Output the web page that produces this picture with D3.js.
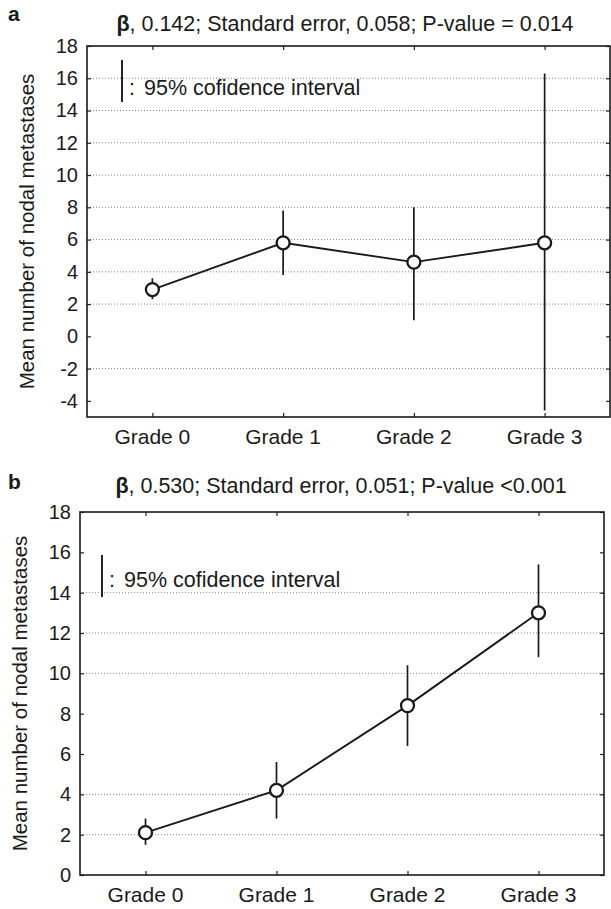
<!DOCTYPE html>
<html>
<head>
<meta charset="utf-8">
<script src="https://cdn.jsdelivr.net/npm/d3@7"></script>
<style>
  body { margin: 0; background: #fff; }
  svg { display: block; }
  text { font-family: "Liberation Sans", Arial, Helvetica, sans-serif; fill: #1a1a1a; }
  .tick-label { font-size: 20px; }
  .grade-label { font-size: 21px; }
  .title { font-size: 21.5px; }
  .legend-text { font-size: 21.5px; }
  .axis-title { font-size: 20.5px; }
  .panel-letter { font-size: 21px; font-weight: bold; }
</style>
</head>
<body>
<svg id="chart"></svg>
<script>
const grades = ["Grade 0", "Grade 1", "Grade 2", "Grade 3"];

// panel a
const meanA = [2.9, 5.8, 4.6, 5.8];
const lowA = [2.3, 3.8, 1.0, -4.6];
const highA = [3.6, 7.8, 8.0, 16.3];
const ticksA = [18, 16, 14, 12, 10, 8, 6, 4, 2, 0, -2, -4];
const gridA = [16, 14, 12, 10, 8, 6, 4, 2, -2];
const statsA = ", 0.142; Standard error, 0.058; P-value = 0.014";

// panel b
const meanB = [2.1, 4.2, 8.4, 13.0];
const lowB = [1.5, 2.8, 6.4, 10.8];
const highB = [2.8, 5.6, 10.4, 15.4];
const ticksB = [18, 16, 14, 12, 10, 8, 6, 4, 2, 0];
const gridB = [14, 12, 10, 4, 2];
const statsB = ", 0.530; Standard error, 0.051; P-value <0.001";

const yTitle = "Mean number of nodal metastases";
const legendLabel = "95% cofidence interval";

const width = 611;
const height = 909;

const svg = d3.select("#chart").attr("width", width).attr("height", height);

const drawPanel = (p) => {
  const g = svg.append("g");

  const x = d3.scalePoint().domain(grades).range([p.left, p.right]).padding(0.5);
  const y = d3.scaleLinear().domain(p.yDomain).range([p.bottom, p.top]);

  const points = grades.map((name, i) => ({
    name: name,
    mean: p.mean[i],
    low: p.low[i],
    high: p.high[i],
  }));

  // dotted grid
  g.append("g")
    .selectAll("line")
    .data(p.grid)
    .join("line")
    .attr("x1", p.left)
    .attr("x2", p.right)
    .attr("y1", (d) => y(d))
    .attr("y2", (d) => y(d))
    .attr("stroke", "#777")
    .attr("stroke-width", 0.9)
    .attr("stroke-dasharray", "1,2");

  // left axis labels + inner ticks on both sides
  const left = g.append("g").attr("transform", `translate(${p.left},0)`)
    .call(d3.axisLeft(y).tickValues(p.ticks).tickSize(0).tickPadding(p.labelGap).tickFormat((d) => String(d)));
  left.select(".domain").remove();
  left.selectAll("text").attr("class", "tick-label").attr("fill", "#1a1a1a");

  g.append("g").attr("transform", `translate(${p.left},0)`)
    .call(d3.axisRight(y).tickValues(p.ticks).tickSize(4).tickFormat(""))
    .call((a) => a.select(".domain").remove())
    .selectAll("line").attr("stroke", "#222").attr("stroke-width", 1.2);
  g.append("g").attr("transform", `translate(${p.right},0)`)
    .call(d3.axisLeft(y).tickValues(p.ticks).tickSize(4).tickFormat(""))
    .call((a) => a.select(".domain").remove())
    .selectAll("line").attr("stroke", "#222").attr("stroke-width", 1.2);

  // bottom labels + ticks top and bottom
  const bottom = g.append("g").attr("transform", `translate(0,${p.bottom})`)
    .call(d3.axisTop(x).tickSize(4).tickFormat(""));
  bottom.select(".domain").remove();
  bottom.selectAll("line").attr("stroke", "#222").attr("stroke-width", 1.2);
  g.append("g").attr("transform", `translate(0,${p.top})`)
    .call(d3.axisBottom(x).tickSize(4).tickFormat(""))
    .call((a) => a.select(".domain").remove())
    .selectAll("line").attr("stroke", "#222").attr("stroke-width", 1.2);

  g.append("g")
    .selectAll("text")
    .data(grades)
    .join("text")
    .attr("class", "grade-label")
    .attr("x", (d) => x(d))
    .attr("y", p.bottom + 27)
    .attr("text-anchor", "middle")
    .text((d) => d);

  // frame
  g.append("rect")
    .attr("x", p.left)
    .attr("y", p.top)
    .attr("width", p.right - p.left)
    .attr("height", p.bottom - p.top)
    .attr("fill", "none")
    .attr("stroke", "#1a1a1a")
    .attr("stroke-width", 1.6);

  // confidence intervals
  g.append("g")
    .selectAll("line")
    .data(points)
    .join("line")
    .attr("x1", (d) => x(d.name))
    .attr("x2", (d) => x(d.name))
    .attr("y1", (d) => y(d.low))
    .attr("y2", (d) => y(d.high))
    .attr("stroke", "#1a1a1a")
    .attr("stroke-width", 1.7);

  // mean line
  g.append("path")
    .datum(points)
    .attr("d", d3.line().x((d) => x(d.name)).y((d) => y(d.mean)))
    .attr("fill", "none")
    .attr("stroke", "#1a1a1a")
    .attr("stroke-width", 1.9);

  g.append("g")
    .selectAll("circle")
    .data(points)
    .join("circle")
    .attr("cx", (d) => x(d.name))
    .attr("cy", (d) => y(d.mean))
    .attr("r", 6.5)
    .attr("fill", "#fff")
    .attr("stroke", "#1a1a1a")
    .attr("stroke-width", 2.3);

  // legend
  g.append("line")
    .attr("x1", p.legendX)
    .attr("x2", p.legendX)
    .attr("y1", p.legendTop)
    .attr("y2", p.legendTop + 42)
    .attr("stroke", "#1a1a1a")
    .attr("stroke-width", 1.9);
  const legend = g.append("text")
    .attr("class", "legend-text")
    .attr("x", p.legendX + 7)
    .attr("y", p.legendTop + p.legendBaseline);
  legend.append("tspan").text(":");
  legend.append("tspan").attr("dx", 9).text(legendLabel);

  // title
  const title = g.append("text")
    .attr("class", "title")
    .attr("x", p.titleX)
    .attr("y", p.titleY)
    .attr("text-anchor", "middle");
  title.append("tspan").attr("font-weight", "bold").text("β");
  title.append("tspan").text(p.stats);

  g.append("text")
    .attr("class", "panel-letter")
    .attr("x", 8)
    .attr("y", p.letterY)
    .text(p.letter);

  g.append("text")
    .attr("class", "axis-title")
    .attr("transform", `translate(${p.yTitleX},${(p.top + p.bottom) / 2}) rotate(-90)`)
    .attr("text-anchor", "middle")
    .text(yTitle);
};

drawPanel({
  letter: "a",
  letterY: 21,
  stats: statsA,
  titleX: 345,
  titleY: 31,
  left: 87,
  right: 610,
  top: 46,
  bottom: 417,
  yDomain: [-5, 18],
  ticks: ticksA,
  grid: gridA,
  labelGap: 9,
  mean: meanA,
  low: lowA,
  high: highA,
  legendX: 122,
  legendTop: 60,
  legendBaseline: 35,
  yTitleX: 34,
});

drawPanel({
  letter: "b",
  letterY: 489,
  stats: statsB,
  titleX: 341,
  titleY: 493,
  left: 80,
  right: 604,
  top: 512,
  bottom: 875,
  yDomain: [0, 18],
  ticks: ticksB,
  grid: gridB,
  labelGap: 9,
  mean: meanB,
  low: lowB,
  high: highB,
  legendX: 102,
  legendTop: 555,
  legendBaseline: 32,
  yTitleX: 27,
});
</script>
</body>
</html>
